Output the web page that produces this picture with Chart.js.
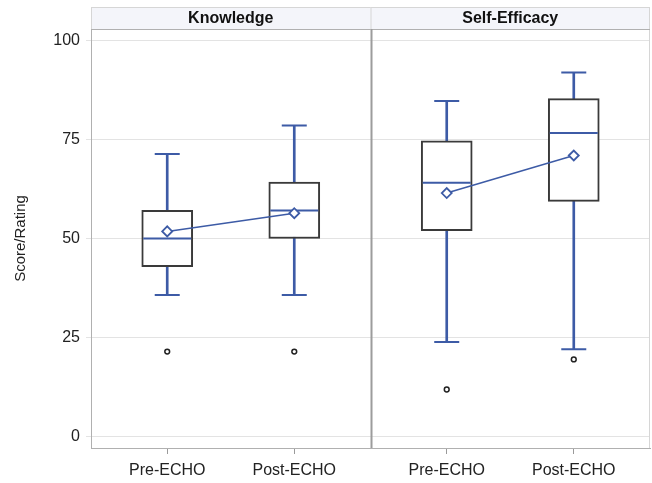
<!DOCTYPE html>
<html>
<head>
<meta charset="utf-8">
<script src="https://cdn.jsdelivr.net/npm/chart.js@4.4.0/dist/chart.umd.min.js"></script>
<style>
  html, body { margin: 0; padding: 0; background: #fff; }
  #wrap { width: 652px; height: 483px; }
</style>
</head>
<body>
<div id="wrap"><canvas id="chart" width="652" height="483"></canvas></div>
<script>
// ---- data ----
const categories = ['Pre-ECHO', 'Post-ECHO'];
const panels = ['Knowledge', 'Self-Efficacy'];
const yTicks = [0, 25, 50, 75, 100];

// Knowledge
const knowLow = [35.7, 35.7];
const knowQ1 = [42.9, 50.0];
const knowMedian = [50.0, 57.1];
const knowQ3 = [57.1, 64.3];
const knowHigh = [71.4, 78.6];
const knowMean = [51.8, 56.4];
const knowOutliers = [21.4, 21.4];

// Self-Efficacy
const selfLow = [23.8, 22.0];
const selfQ1 = [52.0, 59.4];
const selfMedian = [64.1, 76.7];
const selfQ3 = [74.7, 85.4];
const selfHigh = [84.8, 92.0];
const selfMean = [61.5, 71.0];
const selfOutliers = [11.8, 19.4];

const BLUE = '#3d5ba6';
const BOX = '#3a3a3a';
const FONT = '"Liberation Sans", Arial, sans-serif';

// category i sits at x = i + 1 on each panel's axis
const pts = (vals) => vals.map((v, i) => ({ x: i + 1, y: v }));
const span = (a, b) => a.map((v, i) => ({ x: i + 1, y: [v, b[i]] }));

const panelSets = (axisId, low, q1, med, q3, high, mean, outl) => [
    { type: 'bar', xAxisID: axisId, data: span(low, high), grouped: false,
      backgroundColor: BLUE, borderWidth: 0, barThickness: 2, order: 6 },
    { type: 'line', xAxisID: axisId, data: pts(low).concat(pts(high)), showLine: false,
      pointStyle: 'line', pointRadius: 12.5, pointBorderWidth: 2, pointBorderColor: BLUE, order: 5 },
    { type: 'bar', xAxisID: axisId, data: span(q1, q3), grouped: false,
      backgroundColor: '#fff', borderColor: BOX, borderWidth: 2, borderSkipped: false,
      barThickness: 51, order: 4 },
    { type: 'line', xAxisID: axisId, data: pts(med), showLine: false,
      pointStyle: 'line', pointRadius: 24, pointBorderWidth: 2, pointBorderColor: BLUE, order: 3 },
    { type: 'line', xAxisID: axisId, data: pts(mean), borderColor: BLUE, borderWidth: 1.5,
      pointStyle: 'rectRot', pointRadius: 5, pointBorderWidth: 1.8,
      pointBorderColor: BLUE, pointBackgroundColor: '#fff', order: 2 },
    { type: 'line', xAxisID: axisId, data: pts(outl), showLine: false,
      pointStyle: 'circle', pointRadius: 2.4, pointBorderWidth: 1.5,
      pointBorderColor: '#222', pointBackgroundColor: '#fff', order: 1 },
];

// panel strips, divider and frame
const STRIP = 22;
const panelFrame = {
    id: 'panelFrame',
    beforeDraw(chart) {
        const { ctx, chartArea: a } = chart;
        ctx.save();
        ctx.fillStyle = '#f4f5fa';
        ctx.fillRect(a.left, a.top - STRIP, a.right - a.left, STRIP);
        ctx.restore();
    },
    afterDraw(chart) {
        const { ctx, chartArea: a } = chart;
        const axes = [chart.scales.xK, chart.scales.xS];
        ctx.save();
        // strip outline
        ctx.strokeStyle = '#d6d6d6';
        ctx.lineWidth = 1;
        ctx.beginPath();
        ctx.moveTo(a.left, a.top - STRIP + 0.5);
        ctx.lineTo(a.right, a.top - STRIP + 0.5);
        ctx.moveTo(a.right - 0.5, a.top - STRIP);
        ctx.lineTo(a.right - 0.5, a.bottom);
        ctx.moveTo(a.left + 0.5, a.top - STRIP);
        ctx.lineTo(a.left + 0.5, a.top);
        ctx.moveTo(axes[1].left + 0.5, a.top - STRIP);
        ctx.lineTo(axes[1].left + 0.5, a.top);
        ctx.stroke();
        // plot top edge
        ctx.strokeStyle = '#b0b0b0';
        ctx.beginPath();
        ctx.moveTo(a.left, a.top + 0.5);
        ctx.lineTo(a.right, a.top + 0.5);
        ctx.stroke();
        // divider between panels
        ctx.strokeStyle = '#9c9c9c';
        ctx.lineWidth = 2;
        ctx.beginPath();
        ctx.moveTo(axes[1].left + 1, a.top);
        ctx.lineTo(axes[1].left + 1, a.bottom);
        ctx.stroke();
        // strip labels
        ctx.fillStyle = '#111';
        ctx.font = 'bold 16px ' + FONT;
        ctx.textAlign = 'center';
        ctx.textBaseline = 'middle';
        axes.forEach((s, i) => {
            ctx.fillText(panels[i], (s.left + s.right) / 2, a.top - STRIP / 2 + 0.5);
        });
        ctx.restore();
    },
};

const xAxis = () => ({
    type: 'linear',
    position: 'bottom',
    stack: 'panels',
    stackWeight: 1,
    min: 0.4,
    max: 2.6,
    offset: false,
    afterBuildTicks: (s) => { s.ticks = categories.map((c, i) => ({ value: i + 1 })); },
    afterFit: (s) => { s.height = 35; s.paddingLeft = 0; s.paddingRight = 0; },
    grid: { drawOnChartArea: false, offset: false, color: '#9a9a9a', tickLength: 6 },
    border: { color: '#b0b0b0', width: 1 },
    ticks: {
        color: '#222',
        font: { size: 16, family: FONT },
        padding: 7,
        maxRotation: 0,
        minRotation: 0,
        autoSkip: false,
        callback: (v) => categories[v - 1] || '',
    },
});

new Chart(document.getElementById('chart'), {
    type: 'bar',
    data: {
        datasets: [
            ...panelSets('xK', knowLow, knowQ1, knowMedian, knowQ3, knowHigh, knowMean, knowOutliers),
            ...panelSets('xS', selfLow, selfQ1, selfMedian, selfQ3, selfHigh, selfMean, selfOutliers),
        ],
    },
    options: {
        responsive: false,
        animation: false,
        layout: { autoPadding: false, padding: { top: 29, left: 8, right: 2, bottom: 0 } },
        plugins: { legend: { display: false }, tooltip: { enabled: false } },
        scales: {
            xK: xAxis(),
            xS: xAxis(),
            y: {
                type: 'linear',
                position: 'left',
                min: -3,
                max: 103,
                afterBuildTicks: (s) => { s.ticks = yTicks.map((v) => ({ value: v })); },
                afterFit: (s) => { s.width = 83; s.paddingTop = 0; s.paddingBottom = 0; },
                grid: { color: '#e3e3e3', tickLength: 5 },
                border: { color: '#b0b0b0', width: 1 },
                ticks: { color: '#222', font: { size: 16, family: FONT }, padding: 6 },
                title: {
                    display: true,
                    text: 'Score/Rating',
                    color: '#222',
                    font: { size: 15, family: FONT },
                    padding: { top: 4, bottom: 4 },
                },
            },
        },
    },
    plugins: [panelFrame],
});
</script>
</body>
</html>
